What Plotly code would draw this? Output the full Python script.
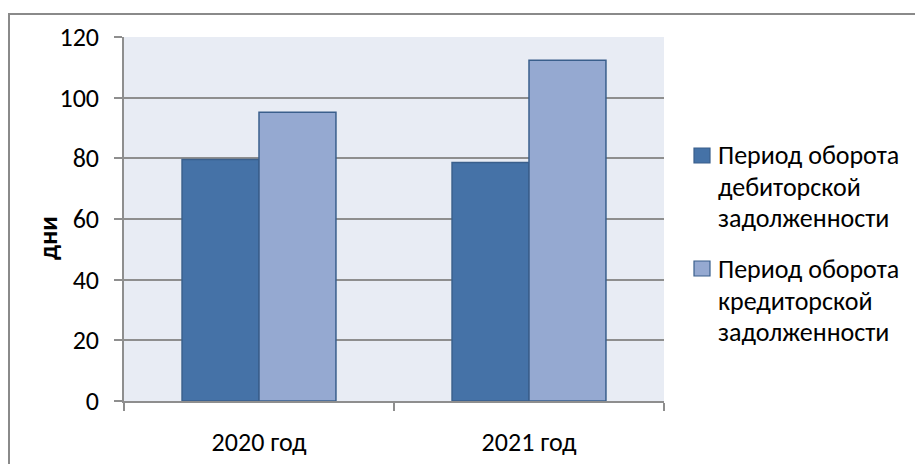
import plotly.graph_objects as go

# Data
years = ["2020 год", "2021 год"]
receivables_days = [79.6, 78.6]
payables_days = [95.2, 112.3]
series_lines = [
    ["Период оборота", "дебиторской", "задолженности"],
    ["Период оборота", "кредиторской", "задолженности"],
]
y_ticks = [0, 20, 40, 60, 80, 100, 120]
y_title = "дни"

W, H = 915, 464
L, R, T, B = 124, 251, 37, 63
PW, PH = W - L - R, H - T - B

FONT = "Carlito, Calibri, Lato, sans-serif"
FS = 26
DARK = "#4572A7"
LIGHT = "#95A9D1"
EDGE = "#3A5F8C"
GRID = "#8E8E8E"


def px(x):
    return (x - L) / PW


def py(y):
    return 1 - (y - T) / PH


fig = go.Figure()
fig.add_trace(go.Bar(x=years, y=receivables_days, name=" ".join(series_lines[0]),
                     marker=dict(color=DARK, line=dict(color=EDGE, width=1.5))))
fig.add_trace(go.Bar(x=years, y=payables_days, name=" ".join(series_lines[1]),
                     marker=dict(color=LIGHT, line=dict(color=EDGE, width=1.5))))

shapes = [
    # chart frame (top and left edges fall inside the page)
    dict(type="rect", xref="paper", yref="paper", x0=px(9), x1=px(930),
         y0=py(490), y1=py(14), line=dict(color="#8A8A8A", width=2), layer="below"),
]
annotations = [
    dict(text="<b>%s</b>" % y_title, xref="paper", yref="paper", x=px(48), y=py(238),
         textangle=-90, showarrow=False, font=dict(family=FONT, size=FS, color="#000"),
         xanchor="center", yanchor="middle"),
]

# legend drawn as swatches with wrapped labels, one line per annotation
for i, (lines, col) in enumerate(zip(series_lines, [DARK, LIGHT])):
    top = 148 + i * 113
    shapes.append(dict(type="rect", xref="paper", yref="paper",
                       x0=px(694), x1=px(710), y0=py(top + 15), y1=py(top),
                       fillcolor=col, line=dict(color=EDGE, width=1.2)))
    for j, line in enumerate(lines):
        base = 164 + i * 114 + j * 31.5
        annotations.append(dict(text=line, xref="paper", yref="paper", x=px(716),
                                y=py(base - 9), xanchor="left", yanchor="middle",
                                showarrow=False,
                                font=dict(family=FONT, size=FS, color="#000")))

fig.update_layout(
    width=W, height=H,
    margin=dict(l=L, r=R, t=T, b=B, pad=0, autoexpand=False),
    paper_bgcolor="white", plot_bgcolor="#E8ECF4",
    barmode="group", bargap=0.43, bargroupgap=0,
    showlegend=False,
    font=dict(family=FONT, size=FS, color="#000"),
    shapes=shapes, annotations=annotations,
    xaxis=dict(type="category", tickson="boundaries", ticks="outside", ticklen=8,
               tickcolor=GRID, tickwidth=1.5, showline=True, linecolor=GRID, linewidth=1.5,
               showgrid=False, tickfont=dict(size=FS), ticklabelstandoff=17,
               automargin=False),
    yaxis=dict(range=[0, 120], tickvals=y_ticks, ticks="outside", ticklen=8,
               tickcolor=GRID, tickwidth=1.5, showline=True, linecolor=GRID, linewidth=1.5,
               showgrid=True, gridcolor=GRID, gridwidth=1.5, zeroline=False,
               tickfont=dict(size=FS), ticklabelstandoff=10, automargin=False),
)

fig.write_html("out.html")
